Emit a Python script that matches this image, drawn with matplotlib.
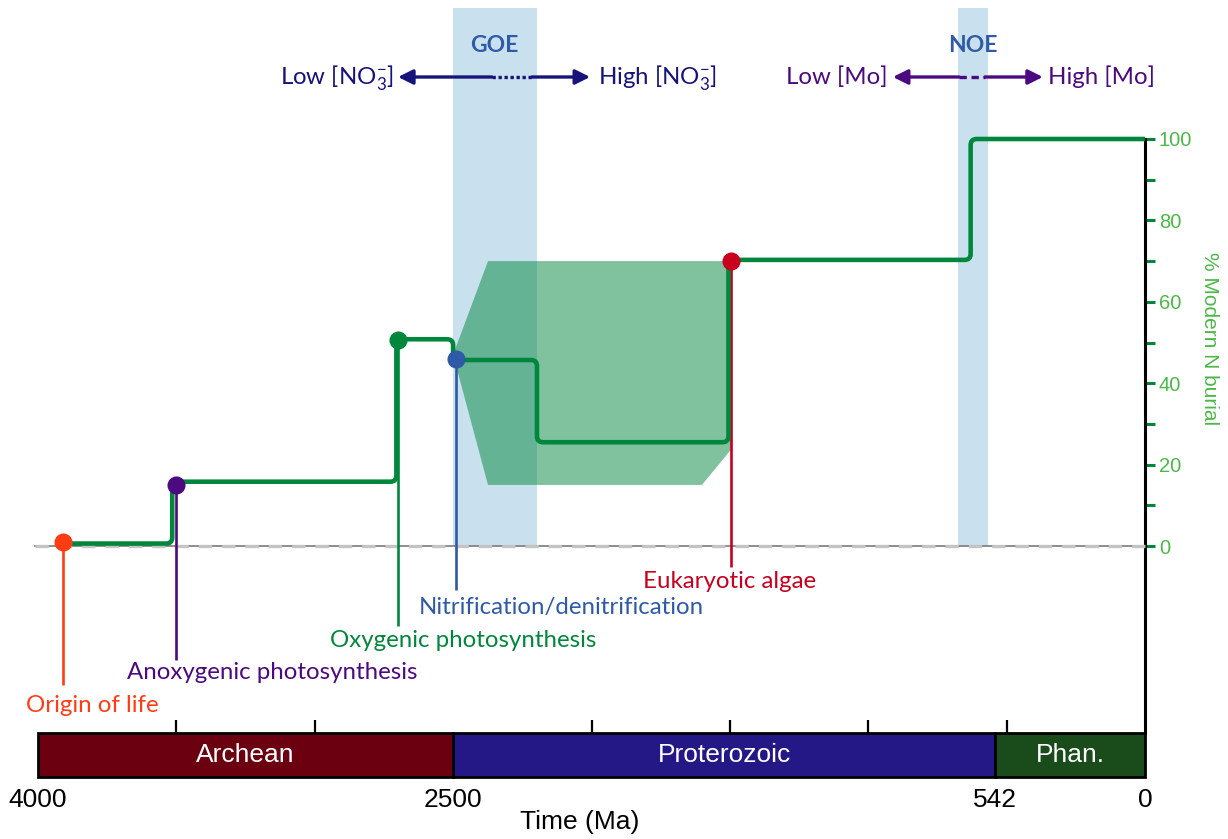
import matplotlib
matplotlib.use("Agg")
import matplotlib.pyplot as plt
from matplotlib.path import Path
from matplotlib.patches import PathPatch, Rectangle, Polygon
import numpy as np

# ---------------- data ----------------
step_times = [3910, 3515, 2705, 2500, 2197, 1505, 630, 0]       # Ma
step_levels = [0.6, 15.8, 50.8, 45.7, 25.5, 70.3, 100]            # % modern N burial

events = ["Origin of life", "Anoxygenic photosynthesis", "Oxygenic photosynthesis",
          "Nitrification/denitrification", "Eukaryotic algae"]
event_ma = [3910, 3500, 2700, 2490, 1495]
event_val = [0.9, 15.0, 50.6, 45.9, 70.1]
event_colors = ["#ff3c14", "#4b0a80", "#00873c", "#2e5aa8", "#c8001e"]

envelope_ma = [2500, 2374, 1492, 1492, 1601, 2374]
envelope_val = [47, 70, 70, 24, 15, 15]

goe = [2500, 2197]
noe = [676, 567]

eras = ["Archean", "Proterozoic", "Phan."]
era_bounds = [4000, 2500, 542, 0]
era_colors = ["#6b0010", "#241886", "#1a4b1a"]

x_ticklabels = [4000, 2500, 542, 0]
y_ticks = [0, 20, 40, 60, 80, 100]

# ---------------- figure ----------------
W, H = 1228, 839
fig = plt.figure(figsize=(W / 100, H / 100), dpi=100)

XL, XR = 38, 1145
YTOP0, YBAR = 0, 733
px_per_v = 4.07
y0px = 546
vmin = (y0px - YBAR) / px_per_v
vmax = (y0px - YTOP0) / px_per_v

ax = fig.add_axes([XL / W, (H - YBAR) / H, (XR - XL) / W, (YBAR - YTOP0) / H])
ax.set_xlim(4000, 0)
ax.set_ylim(vmin, vmax)
ax.patch.set_alpha(0)
for s in ["left", "top", "bottom"]:
    ax.spines[s].set_visible(False)
ax.spines["right"].set_bounds(vmin, 100)
ax.spines["right"].set_linewidth(2.2)
ax.set_xticks([])
ax.yaxis.tick_right()
ax.set_yticks(y_ticks)
ax.set_yticks([10, 30, 50, 70, 90], minor=True)
ax.tick_params(axis="y", which="both", direction="out", length=7, width=2.2,
               color="#00873c", pad=3, labelsize=14.5, labelcolor="#4cb848")
for lab in ax.get_yticklabels():
    lab.set_fontfamily("Liberation Sans")
ax.text(1.058, (100 - vmin - 49) / (vmax - vmin), "% Modern N burial",
        transform=ax.transAxes, rotation=270, ha="center", va="center",
        color="#4cb848", fontsize=15, family="Liberation Sans")

LAB_FONT = ["Lato", "DejaVu Sans"]
plt.rcParams["mathtext.fontset"] = "custom"
plt.rcParams["mathtext.rm"] = "Lato"
plt.rcParams["mathtext.it"] = "Lato"

# bands
band_top = (y0px - 8) / px_per_v
for a, b in (goe, noe):
    ax.fill_between([a, b], 0, band_top, color="#c9e1ef", lw=0, zorder=1)

# envelope
ax.add_patch(Polygon(list(zip(envelope_ma, envelope_val)), closed=True,
                     facecolor="#00873c", alpha=0.5, lw=0, zorder=2))

# zero line
ax.plot([4012, 0], [0, 0], color="#7a7a7a", lw=1.2, zorder=2.5, clip_on=False)
ax.plot([4012, 0], [0, 0], color="#c4c4c4", lw=2.4, dashes=(4, 3), zorder=2.6, clip_on=False)

# rounded step line
xpx = (XR - XL) / 4000.0
rad_px = 6
pts = []
for i, lv in enumerate(step_levels):
    pts.append((step_times[i], lv))
    pts.append((step_times[i + 1], lv))
clean = [pts[0]]
for p in pts[1:]:
    if p != clean[-1]:
        clean.append(p)


def topx(q):
    return np.array([-(q[0]) * xpx, q[1] * px_per_v])


def todata(q):
    return np.array([-(q[0]) / xpx, q[1] / px_per_v])


verts = [clean[0]]
codes = [Path.MOVETO]
for k in range(1, len(clean) - 1):
    P = np.array(clean[k], float)
    A = np.array(clean[k - 1], float)
    B = np.array(clean[k + 1], float)
    Pp, Ap, Bp = topx(P), topx(A), topx(B)
    d1 = (Pp - Ap); l1 = np.linalg.norm(d1); d1 /= l1
    d2 = (Bp - Pp); l2 = np.linalg.norm(d2); d2 /= l2
    r = min(rad_px, l1 / 2, l2 / 2)
    p1 = todata(Pp - d1 * r)
    p2 = todata(Pp + d2 * r)
    verts += [tuple(p1), tuple(P), tuple(p2)]
    codes += [Path.LINETO, Path.CURVE3, Path.CURVE3]
verts.append(clean[-1])
codes.append(Path.LINETO)
ax.add_patch(PathPatch(Path(verts, codes), facecolor="none", edgecolor="#00873c",
                       lw=3.3, zorder=4, capstyle="butt", joinstyle="round"))

# event lines, dots, labels
line_bottoms = [-34.2, -28.0, -19.7, -10.8, -5.2]
label_x = [3805, 3155, 2464, 2110, 1500]
label_y = [-39.2, -31.2, -23.1, -15.2, -8.6]
for i, name in enumerate(events):
    c = event_colors[i]
    ax.plot([event_ma[i], event_ma[i]], [event_val[i], line_bottoms[i]], color=c,
            lw=1.9, zorder=3.5, solid_capstyle="butt")
    ax.plot(event_ma[i], event_val[i], "o", ms=13, color=c, mec="none", zorder=5)
    ax.text(label_x[i], label_y[i], name, color=c, ha="center", va="center",
            fontsize=17.3, family=LAB_FONT, zorder=6)

# top labels
ax.text(2352, (y0px - 45) / px_per_v, "GOE", color="#2e5aa8", fontsize=16.5,
        fontweight="bold", ha="center", va="center", family=LAB_FONT)
ax.text(621, (y0px - 45) / px_per_v, "NOE", color="#2e5aa8", fontsize=16.5,
        fontweight="bold", ha="center", va="center", family=LAB_FONT)

ya = (y0px - 77) / px_per_v


def arrow(x_from, x_to, color):
    ax.annotate("", xy=(x_to, ya), xytext=(x_from, ya),
                arrowprops=dict(arrowstyle="-|>", color=color, lw=2.4,
                                mutation_scale=22, shrinkA=0, shrinkB=0), zorder=6)


navy = "#16147a"
purple = "#4b0a80"
arrow(2360, 2699, navy)
arrow(2215, 2005, navy)
ax.plot([2360, 2215], [ya, ya], color=navy, lw=2.4, ls=(0, (1.0, 0.8)), zorder=6)
arrow(672, 911, purple)
arrow(578, 369, purple)
ax.plot([672, 578], [ya, ya], color=purple, lw=2.4, ls=(0, (2.2, 1.4)), zorder=6)

ax.text(2717, ya, r"Low [NO$_{3}^{-}$]", color=navy, fontsize=17.3, ha="right",
        va="center", family=LAB_FONT)
ax.text(1976, ya, r"High [NO$_{3}^{-}$]", color=navy, fontsize=17.3, ha="left",
        va="center", family=LAB_FONT)
ax.text(929, ya, "Low [Mo]", color=purple, fontsize=17.3, ha="right",
        va="center", family=LAB_FONT)
ax.text(350, ya, "High [Mo]", color=purple, fontsize=17.3, ha="left",
        va="center", family=LAB_FONT)

# ---------------- timescale bar ----------------
YB1, YB2 = 733, 777
axb = fig.add_axes([XL / W, (H - YB2) / H, (XR - XL) / W, (YB2 - YB1) / H])
axb.set_xlim(4000, 0)
axb.set_ylim(0, 1)
for s in axb.spines.values():
    s.set_visible(False)
for i, name in enumerate(eras):
    a, b = era_bounds[i], era_bounds[i + 1]
    axb.add_patch(Rectangle((b, 0), a - b, 1, facecolor=era_colors[i],
                            edgecolor="black", lw=2, clip_on=False))
    axb.text((a + b) / 2, 0.5, name, color="white", ha="center", va="center",
             fontsize=19, family="Liberation Sans")
axb.set_yticks([])
axb.set_xticks(x_ticklabels)
axb.set_xticklabels([str(v) for v in x_ticklabels], fontsize=19, family="Liberation Sans")
axb.tick_params(axis="x", which="major", length=0, pad=8)
axb.set_xticks(np.arange(4000, -1, -500), minor=True)
axb.tick_params(axis="x", which="minor", top=True, bottom=False, direction="out",
                length=9.5, width=1.6, color="black")
fig.text(580 / W, 1 - 822 / H, "Time (Ma)", ha="center", va="center", fontsize=19,
         family="Liberation Sans")

fig.savefig("out.png", dpi=100)
